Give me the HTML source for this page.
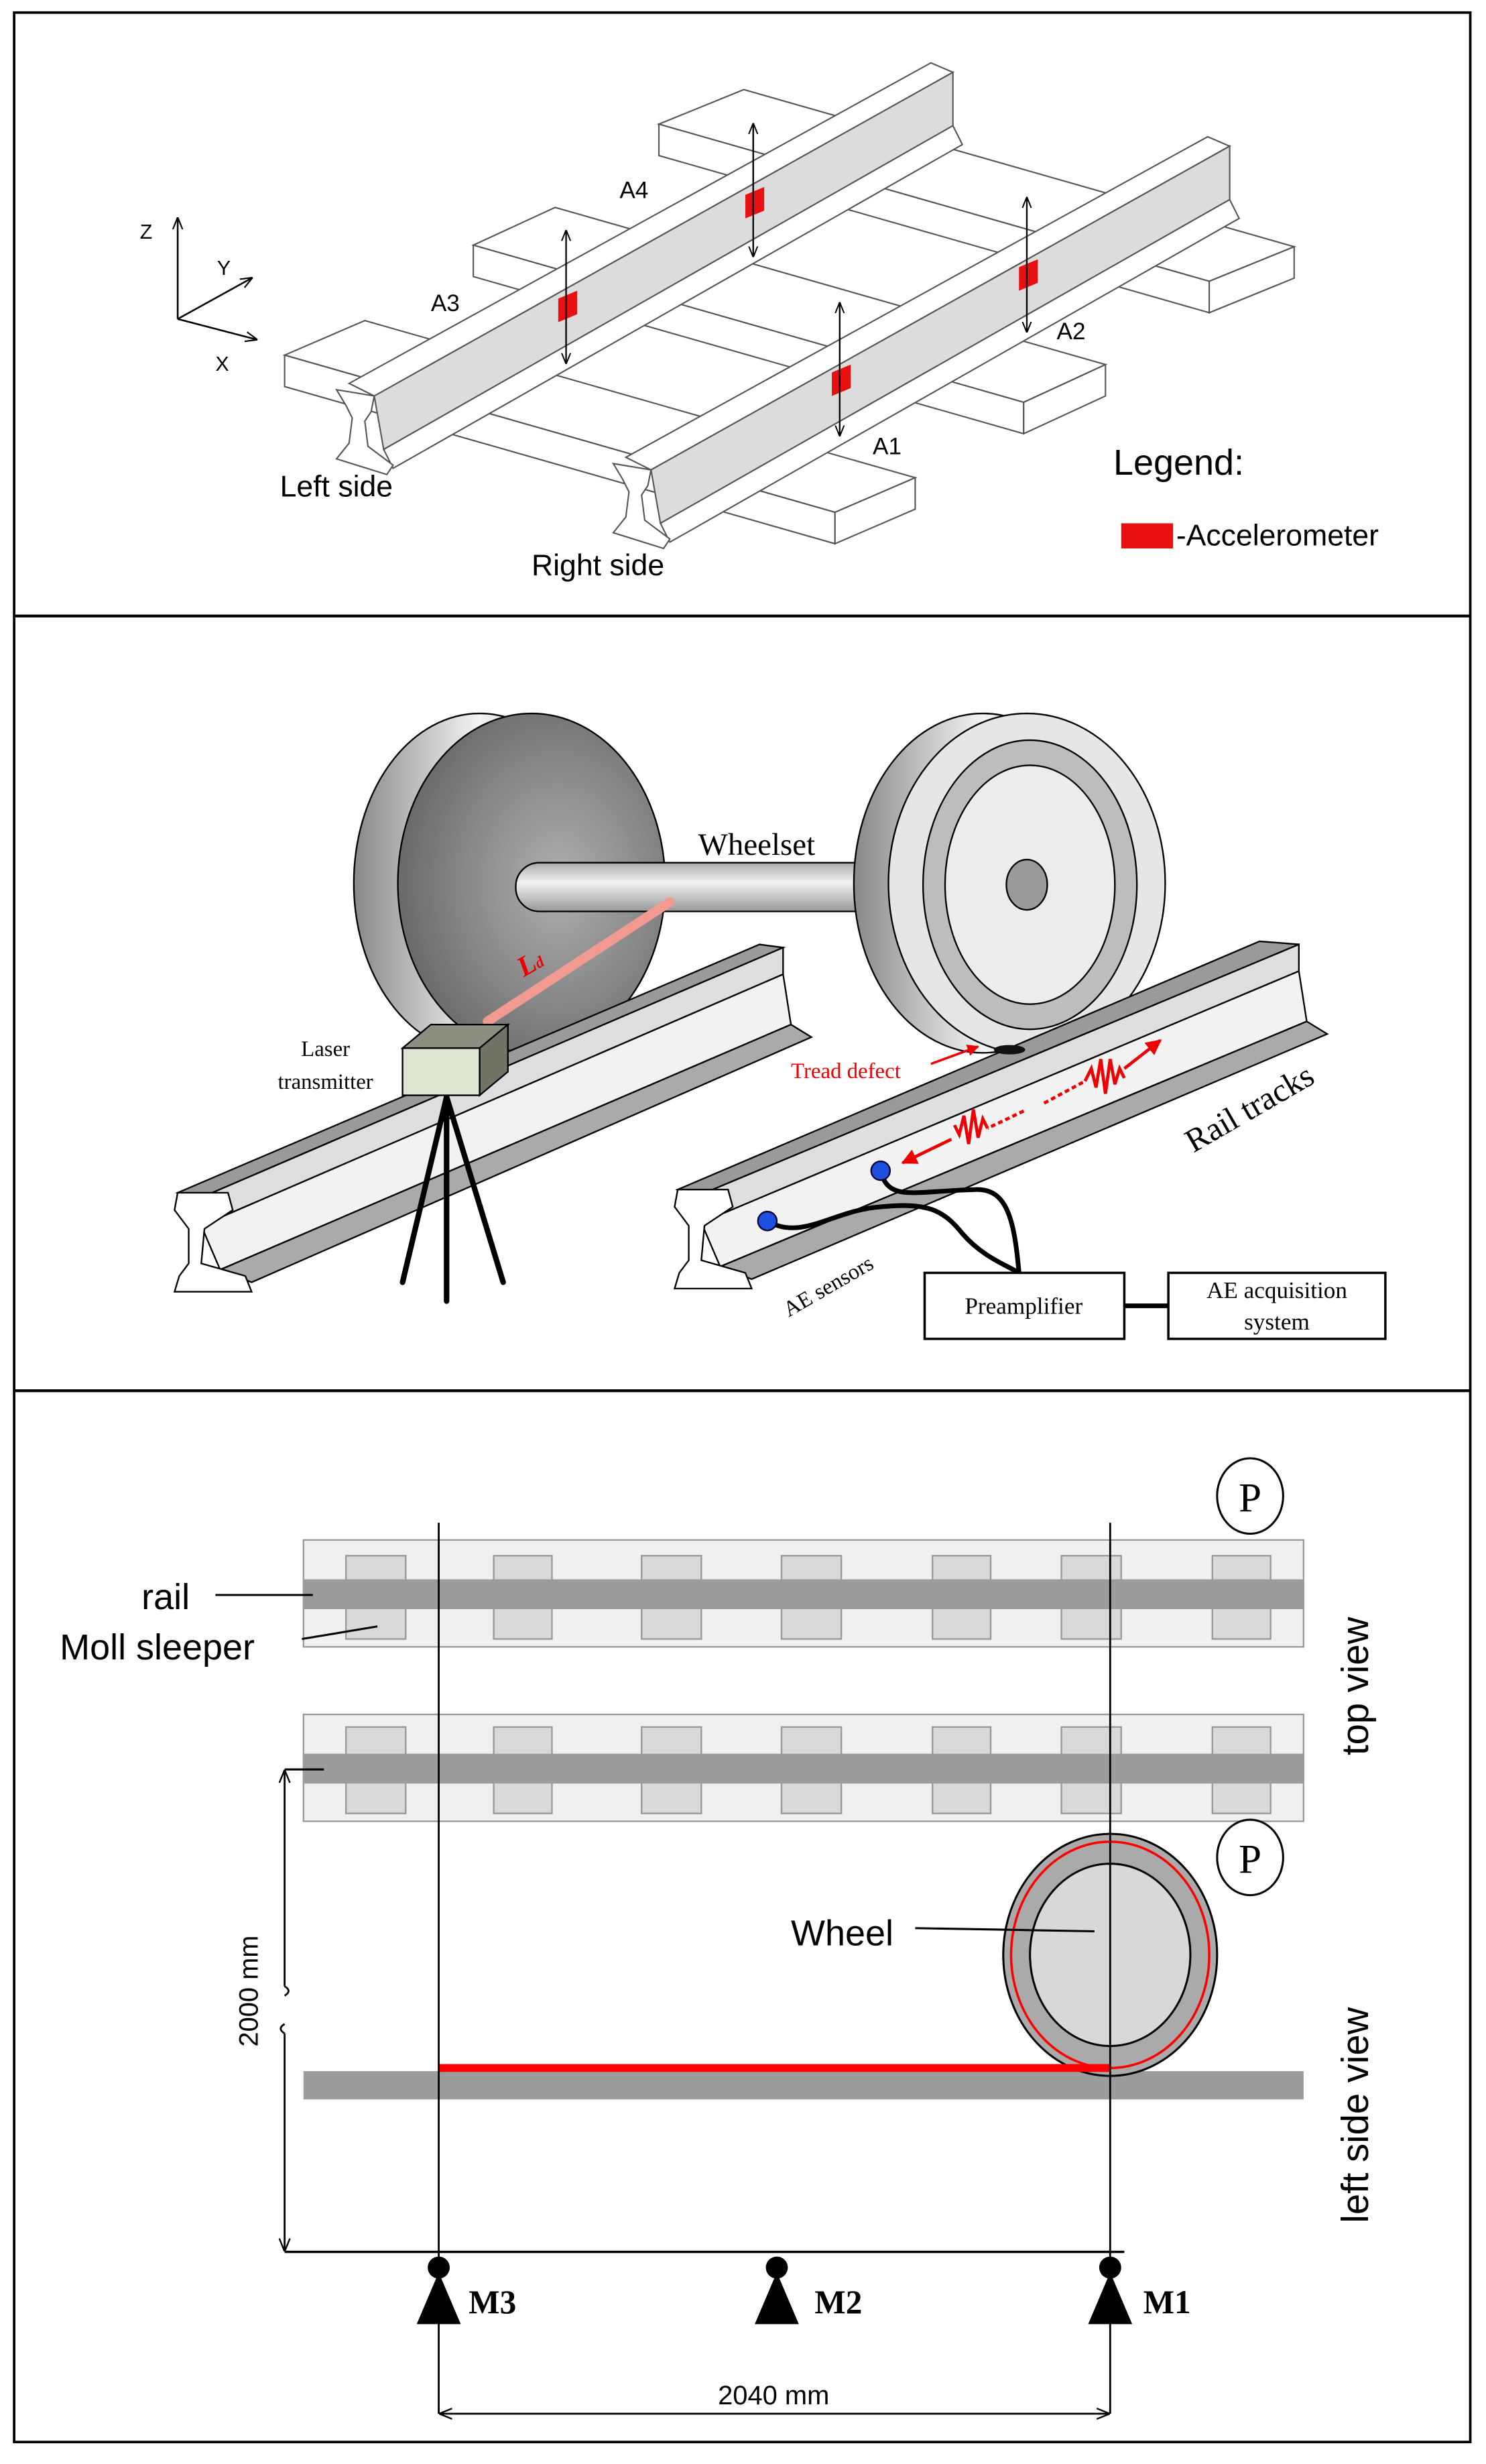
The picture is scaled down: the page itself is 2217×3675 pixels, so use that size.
<!DOCTYPE html>
<html><head><meta charset="utf-8"><style>
html,body{margin:0;padding:0;background:#fff}
svg{display:block}
</style></head><body>
<svg width="2217" height="3675" viewBox="0 0 945 1568" preserveAspectRatio="none" xmlns="http://www.w3.org/2000/svg">
<defs>
<marker id="ah" viewBox="0 0 10 10" refX="9" refY="5" markerWidth="7" markerHeight="7" orient="auto-start-reverse"><path d="M0,1 L10,5 L0,9" fill="none" stroke="#000" stroke-width="1.2"/></marker>
<marker id="ahr" viewBox="0 0 10 10" refX="9" refY="5" markerWidth="5" markerHeight="5" orient="auto"><path d="M0,0 L10,5 L0,10 z" fill="#e00"/></marker>
<radialGradient id="dg" cx="0.6" cy="0.5" r="0.6"><stop offset="0" stop-color="#b0b0b0"/><stop offset="1" stop-color="#6a6a6a"/></radialGradient>
<linearGradient id="rg" x1="0" x2="1"><stop offset="0" stop-color="#888"/><stop offset="0.5" stop-color="#f4f4f4"/><stop offset="1" stop-color="#999"/></linearGradient>
<linearGradient id="ax" x1="0" y1="0" x2="0" y2="1"><stop offset="0" stop-color="#aaa"/><stop offset="0.4" stop-color="#f2f2f2"/><stop offset="1" stop-color="#999"/></linearGradient>
</defs>
<rect width="945" height="1568" fill="#fff"/>
<!-- panel borders -->
<rect x="9" y="8" width="926" height="1546" fill="none" stroke="#000" stroke-width="1.6"/>
<line x1="9" y1="392" x2="935" y2="392" stroke="#000" stroke-width="1.8"/>
<line x1="9" y1="885" x2="935" y2="885" stroke="#000" stroke-width="1.8"/>

<!-- ===== PANEL 1 ===== -->
<g stroke="#555" stroke-width="0.9" fill="#fff">
 <!-- sleepers -->
 <g>
  <polygon points="419,79 473,57 823,157 769,179"/>
  <polygon points="419,79 769,179 769,199 419,99"/>
  <polygon points="769,179 823,157 823,177 769,199"/>
 </g>
 <g>
  <polygon points="301,156 353,132 703,232 651,256"/>
  <polygon points="301,156 651,256 651,276 301,176"/>
  <polygon points="651,256 703,232 703,252 651,276"/>
 </g>
 <g>
  <polygon points="181,226 232,204 582,304 531,326"/>
  <polygon points="181,226 531,326 531,346 181,246"/>
  <polygon points="531,326 582,304 582,324 531,346"/>
 </g>
</g>
<!-- rails -->
<g stroke="#555" stroke-width="0.9">
 <g>
  <polygon points="222,244 592,40 606,46 238,252" fill="#fff"/>
  <polygon points="238,252 606,46 606,80 244,286" fill="#dcdcdc"/>
  <polygon points="244,286 606,80 612,92 250,298" fill="#fff"/>
  <polygon points="214,248 238,252 236,262 232,268 234,284 250,296 246,302 214,292 222,282 224,266 220,258" fill="#fff"/>
 </g>
 <g transform="translate(176,47)">
  <polygon points="222,244 592,40 606,46 238,252" fill="#fff"/>
  <polygon points="238,252 606,46 606,80 244,286" fill="#dcdcdc"/>
  <polygon points="244,286 606,80 612,92 250,298" fill="#fff"/>
  <polygon points="214,248 238,252 236,262 232,268 234,284 250,296 246,302 214,292 222,282 224,266 220,258" fill="#fff"/>
 </g>
</g>
<!-- accelerometers -->
<g fill="#e81010">
 <polygon points="474,124 486,119 486,134 474,139"/>
 <polygon points="355,190 367,185 367,200 355,205"/>
 <polygon points="529,237 541,232 541,247 529,252"/>
 <polygon points="648,170 660,165 660,180 648,185"/>
</g>
<g stroke="#000" stroke-width="1" marker-start="url(#ah)" marker-end="url(#ah)">
 <line x1="479" y1="79" x2="479" y2="163"/>
 <line x1="360" y1="147" x2="360" y2="231"/>
 <line x1="534" y1="193" x2="534" y2="277"/>
 <line x1="653" y1="126" x2="653" y2="211"/>
</g>
<g font-family="Liberation Sans, sans-serif" font-size="15" fill="#000">
 <text x="394" y="126">A4</text>
 <text x="274" y="198">A3</text>
 <text x="555" y="289">A1</text>
 <text x="672" y="216">A2</text>
 <text x="89" y="152" font-size="13">Z</text>
 <text x="138" y="175" font-size="13">Y</text>
 <text x="137" y="236" font-size="13">X</text>
 <text x="178" y="316" font-size="19">Left side</text>
 <text x="338" y="366" font-size="19">Right side</text>
 <text x="708" y="302" font-size="23">Legend:</text>
 <text x="748" y="347" font-size="19">-Accelerometer</text>
</g>
<rect x="713" y="333" width="33" height="16" fill="#e81010"/>
<g stroke="#000" stroke-width="1.1" marker-end="url(#ah)">
 <line x1="113" y1="203" x2="113" y2="139"/>
 <line x1="113" y1="203" x2="160" y2="177"/>
 <line x1="113" y1="203" x2="163" y2="216"/>
</g>

<!-- ===== PANEL 2 ===== -->
<!-- left wheel -->
<ellipse cx="305" cy="562" rx="80" ry="108" fill="url(#rg)" stroke="#000" stroke-width="1"/>
<ellipse cx="338" cy="562" rx="85" ry="108" fill="url(#dg)" stroke="#000" stroke-width="1"/>
<!-- axle -->
<rect x="328" y="549" width="230" height="31" rx="15" fill="url(#ax)" stroke="#000" stroke-width="1"/>
<!-- right wheel -->
<ellipse cx="625" cy="562" rx="82" ry="108" fill="url(#rg)" stroke="#000" stroke-width="1"/>
<ellipse cx="653" cy="562" rx="88" ry="108" fill="#e6e6e6" stroke="#000" stroke-width="1"/>
<ellipse cx="655" cy="563" rx="68" ry="92" fill="#bdbdbd" stroke="#000" stroke-width="1"/>
<ellipse cx="655" cy="563" rx="54" ry="76" fill="#ececec" stroke="#000" stroke-width="1"/>
<ellipse cx="653" cy="563" rx="13" ry="16" fill="#9a9a9a" stroke="#000" stroke-width="1"/>
<text x="444" y="544" font-family="Liberation Serif, serif" font-size="20">Wheelset</text>
<!-- laser beam -->
<line x1="310" y1="650" x2="426" y2="574" stroke="#f09a90" stroke-width="6" stroke-linecap="round"/>
<text x="333" y="622" font-family="Liberation Serif, serif" font-size="18" font-weight="bold" font-style="italic" fill="#e00" transform="rotate(-30 333 622)">L<tspan font-size="10">d</tspan></text>
<!-- rails -->
<g stroke="#000" stroke-width="1">
 <g id="rail2">
  <polygon points="113,759 483,601 498,603 128,762" fill="#9a9a9a"/>
  <polygon points="128,762 498,603 498,620 128,780" fill="#dedede"/>
  <polygon points="128,780 498,620 503,652 140,808" fill="#f2f2f2"/>
  <polygon points="140,808 503,652 516,660 160,816" fill="#aaa"/>
  <polygon points="113,759 145,759 148,770 130,782 128,804 156,812 160,822 111,822 114,812 120,804 120,782 111,770" fill="#fff"/>
 </g>
</g>
<g transform="translate(318,-2)" stroke="#000" stroke-width="1">
  <polygon points="113,759 483,601 508,603 128,762" fill="#9a9a9a"/>
  <polygon points="128,762 508,603 508,620 128,780" fill="#dedede"/>
  <polygon points="128,780 508,620 513,652 140,808" fill="#f2f2f2"/>
  <polygon points="140,808 513,652 526,660 160,816" fill="#aaa"/>
  <polygon points="113,759 145,759 148,770 130,782 128,804 156,812 160,822 111,822 114,812 120,804 120,782 111,770" fill="#fff"/>
</g>
<!-- laser box and tripod -->
<g stroke="#000" stroke-width="3.5" stroke-linecap="round">
 <line x1="284" y1="698" x2="256" y2="816"/>
 <line x1="284" y1="698" x2="284" y2="828"/>
 <line x1="284" y1="698" x2="320" y2="816"/>
</g>
<g stroke="#000" stroke-width="1">
 <polygon points="256,667 274,652 323,652 305,667" fill="#8a8f80"/>
 <polygon points="305,667 323,652 323,682 305,697" fill="#6f7466"/>
 <rect x="256" y="667" width="49" height="30" fill="#dfe6cf"/>
</g>
<g font-family="Liberation Serif, serif" font-size="14" text-anchor="middle">
 <text x="207" y="672">Laser</text>
 <text x="207" y="693">transmitter</text>
</g>
<!-- tread defect -->
<text x="503" y="686" font-family="Liberation Serif, serif" font-size="14" fill="#e00">Tread defect</text>
<line x1="592" y1="677" x2="622" y2="666" stroke="#e00" stroke-width="1.5" marker-end="url(#ahr)"/>
<ellipse cx="642" cy="668" rx="10" ry="3" fill="#111"/>
<!-- waves -->
<g stroke="#e00" stroke-width="2" fill="none">
 <path d="M664,702 L690,688" stroke-dasharray="3,2"/>
 <path d="M690,688 l4,-8 l3,12 l3,-18 l3,22 l3,-22 l3,16 l3,-10 l3,6"/>
 <path d="M715,680 L738,662" marker-end="url(#ahr)"/>
 <path d="M651,707 L628,718" stroke-dasharray="3,2"/>
 <path d="M628,718 l-3,-6 l-3,12 l-3,-18 l-3,22 l-3,-18 l-3,12 l-3,-6"/>
 <path d="M605,725 L574,740" marker-end="url(#ahr)"/>
</g>
<text x="795" y="712" font-family="Liberation Serif, serif" font-size="21" text-anchor="middle" transform="rotate(-30 795 706)">Rail tracks</text>
<!-- sensors and cables -->
<g stroke="#000" stroke-width="3" fill="none" stroke-linecap="round">
 <path d="M488,777 C510,790 530,770 560,768 C590,765 600,770 612,785 C625,800 640,805 648,810"/>
 <path d="M560,745 C565,765 580,758 620,757 C640,756 645,775 648,810"/>
</g>
<circle cx="560" cy="745" r="6" fill="#1f4fe0" stroke="#003" stroke-width="1"/>
<circle cx="488" cy="777" r="6" fill="#1f4fe0" stroke="#003" stroke-width="1"/>
<text x="527" y="823" font-family="Liberation Serif, serif" font-size="14" text-anchor="middle" transform="rotate(-30 527 819)">AE sensors</text>
<rect x="588" y="810" width="127" height="42" fill="#fff" stroke="#000" stroke-width="1.5"/>
<rect x="743" y="810" width="138" height="42" fill="#fff" stroke="#000" stroke-width="1.5"/>
<line x1="715" y1="831" x2="743" y2="831" stroke="#000" stroke-width="3"/>
<g font-family="Liberation Serif, serif" font-size="15" text-anchor="middle">
 <text x="651" y="836">Preamplifier</text>
 <text x="812" y="826">AE acquisition</text>
 <text x="812" y="846">system</text>
</g>

<!-- ===== PANEL 3 ===== -->
<g stroke="#999" stroke-width="1">
 <rect x="193" y="980" width="636" height="68" fill="#f0f0f0"/>
 <rect x="193" y="1091" width="636" height="68" fill="#f0f0f0"/>
</g>
<g fill="#d9d9d9" stroke="#999" stroke-width="1">
 <rect x="220" y="990" width="38" height="53"/><rect x="314" y="990" width="37" height="53"/>
 <rect x="408" y="990" width="38" height="53"/><rect x="497" y="990" width="38" height="53"/>
 <rect x="593" y="990" width="37" height="53"/><rect x="675" y="990" width="38" height="53"/>
 <rect x="771" y="990" width="37" height="53"/>
 <rect x="220" y="1099" width="38" height="55"/><rect x="314" y="1099" width="37" height="55"/>
 <rect x="408" y="1099" width="38" height="55"/><rect x="497" y="1099" width="38" height="55"/>
 <rect x="593" y="1099" width="37" height="55"/><rect x="675" y="1099" width="38" height="55"/>
 <rect x="771" y="1099" width="37" height="55"/>
</g>
<rect x="193" y="1005" width="636" height="19" fill="#9c9c9c"/>
<rect x="193" y="1116" width="636" height="19" fill="#9c9c9c"/>
<rect x="193" y="1318" width="636" height="18" fill="#9c9c9c"/>
<!-- wheel -->
<ellipse cx="706" cy="1244" rx="68" ry="77" fill="#aaa" stroke="#000" stroke-width="1.3"/>
<ellipse cx="706" cy="1244" rx="63" ry="72" fill="none" stroke="#f00" stroke-width="1.5"/>
<ellipse cx="706" cy="1244" rx="51" ry="58" fill="#d8d8d8" stroke="#000" stroke-width="1.3"/>
<line x1="279" y1="1316" x2="706" y2="1316" stroke="#f00" stroke-width="5"/>
<!-- vertical lines -->
<line x1="279" y1="969" x2="279" y2="1536" stroke="#000" stroke-width="1.2"/>
<line x1="706" y1="969" x2="706" y2="1536" stroke="#000" stroke-width="1.2"/>
<!-- P circles -->
<g font-family="Liberation Serif, serif" font-size="26" text-anchor="middle">
 <ellipse cx="795" cy="952" rx="21" ry="24" fill="#fff" stroke="#000" stroke-width="1.3"/>
 <text x="795" y="962">P</text>
 <ellipse cx="795" cy="1182" rx="21" ry="24" fill="#fff" stroke="#000" stroke-width="1.3"/>
 <text x="795" y="1192">P</text>
</g>
<!-- labels -->
<g font-family="Liberation Sans, sans-serif" font-size="23">
 <text x="90" y="1024">rail</text>
 <text x="38" y="1056">Moll sleeper</text>
 <text x="503" y="1238">Wheel</text>
</g>
<g stroke="#000" stroke-width="1.3">
 <line x1="137" y1="1015" x2="199" y2="1015"/>
 <line x1="192" y1="1043" x2="240" y2="1035"/>
 <line x1="582" y1="1227" x2="696" y2="1229"/>
 <line x1="181" y1="1126" x2="206" y2="1126"/>
 <line x1="181" y1="1433" x2="715" y2="1433" stroke-width="1.5"/>
</g>
<!-- 2000 mm dimension -->
<g stroke="#000" stroke-width="1.2" fill="none">
 <line x1="181" y1="1127" x2="181" y2="1264" marker-start="url(#ah)"/>
 <path d="M181,1264 q5,3 0,6"/>
 <path d="M181,1288 q-5,3 0,6"/>
 <line x1="181" y1="1294" x2="181" y2="1432" marker-end="url(#ah)"/>
</g>
<text x="164" y="1267" font-family="Liberation Sans, sans-serif" font-size="17" text-anchor="middle" transform="rotate(-90 164 1267)">2000 mm</text>
<!-- supports -->
<g fill="#000">
 <circle cx="279" cy="1443" r="7"/><polygon points="279,1446 265,1479 293,1479"/>
 <circle cx="494" cy="1443" r="7"/><polygon points="494,1446 480,1479 508,1479"/>
 <circle cx="706" cy="1443" r="7"/><polygon points="706,1446 692,1479 720,1479"/>
</g>
<g font-family="Liberation Serif, serif" font-size="21" font-weight="bold">
 <text x="298" y="1472">M3</text>
 <text x="518" y="1472">M2</text>
 <text x="727" y="1472">M1</text>
</g>
<line x1="280" y1="1536" x2="705" y2="1536" stroke="#000" stroke-width="1.2" marker-start="url(#ah)" marker-end="url(#ah)"/>
<text x="492" y="1530" font-family="Liberation Sans, sans-serif" font-size="17" text-anchor="middle">2040 mm</text>
<g font-family="Liberation Sans, sans-serif" font-size="24" text-anchor="middle">
 <text x="870" y="1073" transform="rotate(-90 870 1073)">top view</text>
 <text x="870" y="1346" transform="rotate(-90 870 1346)">left side view</text>
</g>
</svg>
</body></html>
